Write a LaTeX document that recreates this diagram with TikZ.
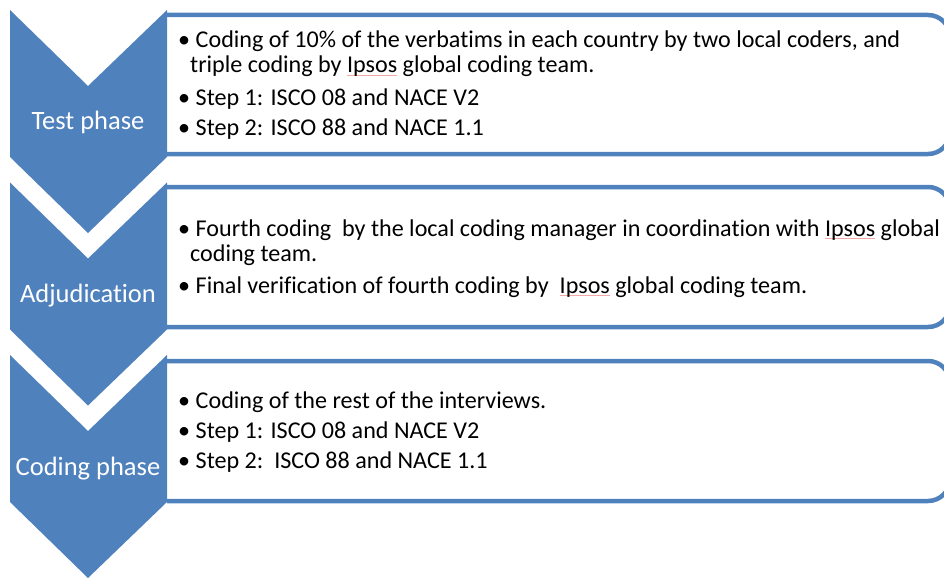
\documentclass[tikz,border=0pt]{standalone}
\usepackage{fontspec}
\setmainfont{Carlito}[Ligatures={NoCommon}]
\definecolor{accentblue}{HTML}{4F81BD}
\definecolor{spellred}{HTML}{F2A6A6}
% faint proofing underline under a word
\newcommand\spellflag[1]{\setbox0\hbox{#1}\rlap{\textcolor{spellred}{\rule[-2.8pt]{\wd0}{0.55pt}}}\box0\relax}
\begin{document}
\begin{tikzpicture}[x=1pt,y=-1pt,
  chev/.style={fill=accentblue, draw=none},
  panel/.style={draw=accentblue, line width=4.5pt, fill=white, rounded corners=22pt},
  phase/.style={text=white, anchor=base, inner sep=0pt, font=\fontsize{26.5}{30}\selectfont},
  item/.style={anchor=base west, inner sep=0pt, text=black, font=\fontsize{24.1}{28}\selectfont},
]
\useasboundingbox (0,0) rectangle (944,578);
\clip (0,0) rectangle (944,578);

% text panels (right side runs past the edge)
\draw[panel] (167,15) -- (950,15) -- (950,154) -- (167,154);
\draw[panel] (167,187) -- (950,187) -- (950,327) -- (167,327);
\draw[panel] (167,361) -- (950,361) -- (950,501) -- (167,501);

% chevrons
\foreach \dy in {0,172.5,345} {
  \fill[chev] (10,10+\dy) -- (88,86+\dy) -- (167,10+\dy) -- (167,157+\dy)
    -- (88,233+\dy) -- (10,157+\dy) -- cycle;
}

% phase labels
\node[phase] (p1) at (88,129.5) {Test phase};
\node[phase] (p2) at (88,302.5) {Adjudication};
\node[phase] (p3) at (88,475.5) {Coding phase};

% panel 1
\node[item] (a1b) at (178,48) {•};
\node[item] (a1)  at (190,48) {\hspace*{.23em}Coding of 10\% of the verbatims in each country by two local coders, and};
\node[item] (a1w) at (190,73) {triple coding by \spellflag{Ipsos} global coding team.};
\node[item] (a2b) at (178,105) {•};
\node[item] (a2)  at (190,105) {\hspace*{.23em}Step 1: ISCO 08 and NACE V2};
\node[item] (a3b) at (178,135) {•};
\node[item] (a3)  at (190,135) {\hspace*{.23em}Step 2: ISCO 88 and NACE 1.1};

% panel 2
\node[item] (b1b) at (178,236) {•};
\node[item] (b1)  at (190,236) {\hspace*{.23em}Fourth coding\ \ by the local coding manager in coordination with \spellflag{Ipsos} global};
\node[item] (b1w) at (190,261.5) {coding team.};
\node[item] (b2b) at (178,293) {•};
\node[item] (b2)  at (190,293) {\hspace*{.23em}Final verification of fourth coding by\ \ \spellflag{Ipsos} global coding team.};

% panel 3
\node[item] (c1b) at (178,408) {•};
\node[item] (c1)  at (190,408) {\hspace*{.23em}Coding of the rest of the interviews.};
\node[item] (c2b) at (178,438) {•};
\node[item] (c2)  at (190,438) {\hspace*{.23em}Step 1: ISCO 08 and NACE V2};
\node[item] (c3b) at (178,468) {•};
\node[item] (c3)  at (190,468) {\hspace*{.23em}Step 2:\ \ ISCO 88 and NACE 1.1};
\end{tikzpicture}
\end{document}
